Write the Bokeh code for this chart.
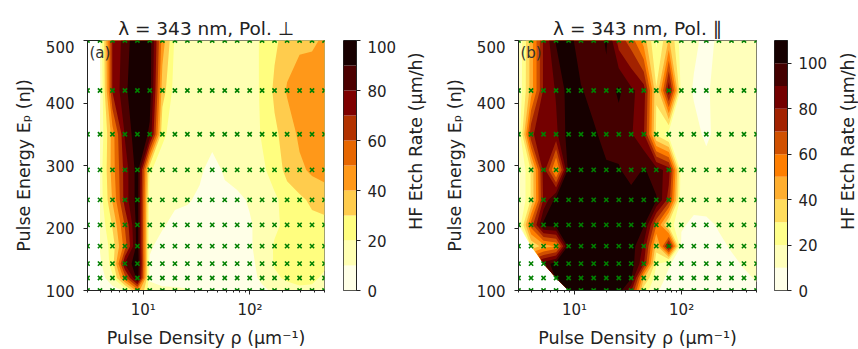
import numpy as np
from bokeh.plotting import figure
from bokeh.layouts import row, column
from bokeh.models import Range1d, FixedTicker, Label
from bokeh.core.properties import value
from bokeh.embed import file_html
from bokeh.resources import INLINE

nan = float("nan")

# ---------------- data ----------------
pulse_density = [3.0, 3.93, 5.14, 6.73, 8.81, 11.5, 15.1, 19.8, 25.9, 33.8,
                 44.3, 58.0, 75.9, 99.4, 130.0, 170.0, 223.0, 292.0, 382.0, 500.0]
pulse_energy = [100, 120, 143, 171, 205, 245, 293, 350, 420, 500]

# rows follow pulse_energy (bottom -> top), columns follow pulse_density
etch_perp = [
    [nan, 3, 5, 12, 45, 15, 12, 12, 11, 8, 6, 5, 5, 6, 8, 12, 15, 18, 18, 15],
    [nan, 5, 18, 55, 95, 8, 6, 5, 5, 5, 5, 5, 5, 7, 12, 18, 22, 23, 22, 18],
    [nan, 8, 25, 81, 99, 9, 6, 5, 5, 5, 5, 5, 5, 8, 13, 21, 22, 24, 25, 22],
    [nan, 11, 25, 55, 95, 11, 7, 6, 5, 5, 5, 5, 6, 9, 14, 21, 23, 25, 25, 25],
    [nan, 13, 31, 61, 95, 12, 11, 7, 6, 5, 5, 5, 6, 9, 14, 18, 23, 25, 27, 28],
    [nan, 15, 41, 75, 95, 14, 12, 12, 11, 8, 6, 6, 8, 11, 15, 18, 25, 28, 32, 33],
    [nan, 15, 45, 75, 95, 21, 15, 14, 13, 12, 5, 12, 14, 15, 18, 25, 33, 38, 42, 45],
    [nan, 12, 45, 81, 99, 88, 22, 15, 15, 15, 15, 15, 15, 15, 21, 28, 35, 42, 48, 48],
    [nan, 8, 71, 88, 99, 95, 35, 15, 15, 15, 15, 15, 15, 15, 22, 32, 41, 45, 47, 47],
    [nan, 11, 71, 85, 99, 95, 45, 18, 15, 15, 15, 15, 15, 15, 22, 28, 35, 38, 38, 42],
]

etch_par = [
    [nan, nan, nan, nan, 101, 105, 105, 105, 105, 82, 25, 11, 6, 4, 4, 4, 4, 5, 6, 8],
    [nan, nan, nan, 101, 105, 105, 105, 105, 105, 101, 41, 14, 8, 4, 4, 4, 5, 6, 8, 11],
    [nan, nan, 95, 105, 105, 105, 105, 105, 105, 105, 81, 21, 11, 5, 4, 5, 6, 8, 11, 12],
    [nan, 31, 45, 51, 105, 105, 105, 105, 105, 105, 88, 35, 88, 8, 5, 6, 8, 11, 12, 13],
    [11, 65, 103, 105, 105, 105, 105, 105, 105, 105, 101, 61, 25, 11, 8, 8, 11, 12, 13, 14],
    [8, 31, 82, 105, 105, 105, 105, 105, 105, 105, 105, 101, 75, 12, 13, 14, 15, 15, 15, 15],
    [8, 31, 85, 45, 105, 105, 105, 102, 101, 95, 101, 95, 85, 14, 15, 14, 15, 15, 15, 15],
    [12, 78, 88, 88, 105, 105, 102, 95, 95, 91, 81, 28, 15, 15, 13, 8, 14, 15, 15, 15],
    [12, 45, 82, 91, 105, 101, 95, 95, 102, 92, 85, 31, 88, 15, 9, 9, 13, 15, 15, 15],
    [11, 45, 82, 101, 105, 92, 91, 102, 75, 65, 45, 18, 41, 14, 12, 7, 12, 15, 15, 15],
]

levels_perp = [0, 10, 20, 30, 40, 50, 60, 70, 80, 90, 100]
levels_par = [0, 10, 20, 30, 40, 50, 60, 70, 80, 90, 100, 110]
cbar_ticks = [0, 20, 40, 60, 80, 100]

titles = ["λ = 343 nm, Pol. ⊥", "λ = 343 nm, Pol. ∥"]
panel_tags = ["(a)", "(b)"]
xlabel = "Pulse Density ρ (µm⁻¹)"
ylabel = "Pulse Energy Eₚ (nJ)"
cbar_label = "HF Etch Rate (µm/h)"

# afmhot_r sampled at band centres
colors_perp = ["#ffffe7", "#ffffb3", "#fffe7f", "#ffcc4d", "#ff9819",
               "#e66600", "#b23200", "#7e0000", "#4c0000", "#180000"]
colors_par = ["#ffffe9", "#ffffbb", "#ffff8b", "#ffdc5d", "#ffae2f", "#fe7e00",
              "#d05000", "#a22200", "#740000", "#440000", "#160000"]

FONT = "DejaVu Sans"
TXT = "#222222"
ROW_H = 309          # height of the panel row (frame 250 + bottom border 59)
FRAME_H = 250


def style_axis(ax, tick_size="15px", label_size="17.5px"):
    ax.major_label_text_font = FONT
    ax.major_label_text_font_size = tick_size
    ax.major_label_text_color = TXT
    ax.axis_label_text_font = FONT
    ax.axis_label_text_font_size = label_size
    ax.axis_label_text_font_style = "normal"
    ax.axis_label_text_color = TXT
    ax.axis_line_color = "#222222"
    ax.major_tick_line_color = "#222222"
    ax.minor_tick_line_color = "#222222"
    ax.major_tick_in = 0
    ax.major_tick_out = 4
    ax.minor_tick_in = 0
    ax.minor_tick_out = 2


def blank_fig(w, h, xr, yr):
    f = figure(width=w, height=h, x_range=Range1d(*xr), y_range=Range1d(*yr),
               output_backend="svg", toolbar_location=None,
               min_border=0, x_axis_location=None, y_axis_location=None)
    f.grid.visible = False
    f.outline_line_color = None
    f.background_fill_color = "white"
    f.border_fill_color = "white"
    return f


def make_panel(idx, z, levels, colors, frame_w, right_border):
    p = figure(frame_width=frame_w, frame_height=FRAME_H, x_axis_type="log",
               x_range=Range1d(pulse_density[0], pulse_density[-1]),
               y_range=Range1d(pulse_energy[0], pulse_energy[-1]),
               output_backend="svg", toolbar_location=None,
               min_border_left=87, min_border_right=right_border,
               min_border_top=0, min_border_bottom=ROW_H - FRAME_H)
    p.grid.visible = False
    p.outline_line_color = "#222222"
    p.outline_line_alpha = 1
    p.outline_line_width = 1
    p.background_fill_color = "white"
    p.border_fill_color = "white"

    zz = np.array(z, dtype=float)
    # filled contours painted cumulatively (region >= each level), lowest first
    for k in range(len(colors)):
        cr = p.contour(x=pulse_density, y=pulse_energy, z=zz,
                       levels=[levels[k], levels[-1]], fill_color=colors[k])
        g = cr.fill_renderer.glyph
        g.line_color = colors[k]
        g.line_width = 0.6

    gx, gy = np.meshgrid(pulse_density, pulse_energy)
    p.scatter(gx.ravel(), gy.ravel(), marker="x", size=6, line_width=1.6,
              line_color="#008000")

    p.xaxis.ticker = FixedTicker(ticks=[10, 100],
                                 minor_ticks=[3, 4, 5, 6, 7, 8, 9, 20, 30, 40, 50,
                                              60, 70, 80, 90, 200, 300, 400, 500])
    p.xaxis.major_label_overrides = {10: "10¹", 100: "10²"}
    p.yaxis.ticker = FixedTicker(ticks=[100, 200, 300, 400, 500])
    style_axis(p.xaxis[0])
    style_axis(p.yaxis[0])
    p.xaxis.axis_label = xlabel
    p.yaxis.axis_label = ylabel
    p.xaxis.major_label_standoff = 6
    p.xaxis.axis_label_standoff = 6
    p.yaxis.major_label_standoff = 9
    p.yaxis.axis_label_standoff = 9

    p.add_layout(Label(x=pulse_density[0], y=pulse_energy[-1], text=panel_tags[idx],
                       x_offset=2, y_offset=-3, text_baseline="top",
                       text_font=FONT, text_font_size="15px", text_color="#333333"))
    return p


def make_cbar(levels, colors, right_border):
    cb = figure(frame_width=13, frame_height=FRAME_H,
                x_range=Range1d(0, 1), y_range=Range1d(levels[0], levels[-1]),
                y_axis_location="right", x_axis_location=None,
                output_backend="svg", toolbar_location=None,
                min_border_left=0, min_border_right=right_border,
                min_border_top=0, min_border_bottom=ROW_H - FRAME_H)
    cb.grid.visible = False
    cb.outline_line_color = "#222222"
    cb.outline_line_alpha = 1
    cb.outline_line_width = 1
    cb.quad(left=cb.x_range.start, right=cb.x_range.end,
            bottom=levels[:-1], top=levels[1:], fill_color=colors, line_color=None)
    cb.yaxis.ticker = FixedTicker(ticks=cbar_ticks)
    style_axis(cb.yaxis[0])
    cb.yaxis.minor_tick_out = 0
    cb.yaxis.major_label_standoff = 7
    return cb


def make_vlabel(w):
    f = blank_fig(w, ROW_H, (0, w), (0, ROW_H))
    f.text(x=[w / 2], y=[ROW_H - FRAME_H / 2], text=[cbar_label], angle=np.pi / 2,
           text_align="center", text_baseline="middle",
           text_font=value(FONT), text_font_size=value("17.5px"), text_color=TXT)
    return f


def make_title(w, xc, txt):
    f = blank_fig(w, 40, (0, w), (0, 40))
    f.text(x=[xc], y=[12], text=[txt], text_align="center", text_baseline="alphabetic",
           text_font=value(FONT), text_font_size=value("18.5px"), text_color=TXT)
    return f


pa = make_panel(0, etch_perp, levels_perp, colors_perp, 237, 19)   # 0..343
ca = make_cbar(levels_perp, colors_perp, 44)                        # 343..400
la = make_vlabel(31)                                                # 400..431
pb = make_panel(1, etch_par, levels_par, colors_par, 238, 18)      # 431..774
cbb = make_cbar(levels_par, colors_par, 49)                         # 774..836
lb = make_vlabel(22)                                                # 836..858

ta = make_title(411, 87 + 237 / 2, titles[0])                       # 0..411
tb = make_title(447, 87 + 238 / 2 + 431 - 411, titles[1])           # 411..858

layout = column(row(ta, tb), row(pa, ca, la, pb, cbb, lb))
open("out.html", "w").write(file_html(layout, INLINE, title="HF etch rate"))
